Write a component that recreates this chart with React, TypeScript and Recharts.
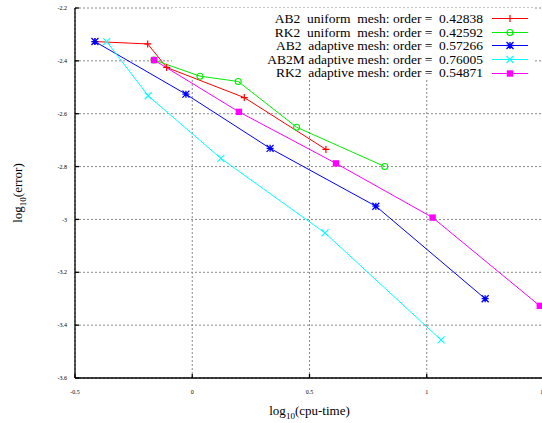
import React from "react";
import { CartesianGrid, Legend, Line, LineChart, ReferenceArea, XAxis, YAxis } from "recharts";

// log10(cpu-time) / log10(error) pairs
const ab2UniformX = [-0.415, -0.19, -0.109, 0.222, 0.57];
const ab2UniformY = [-2.327, -2.336, -2.425, -2.539, -2.735];
const rk2UniformX = [-0.163, 0.033, 0.196, 0.445, 0.821];
const rk2UniformY = [-2.397, -2.458, -2.478, -2.651, -2.8];
const ab2AdaptiveX = [-0.415, -0.027, 0.332, 0.783, 1.249];
const ab2AdaptiveY = [-2.327, -2.526, -2.731, -2.95, -3.3];
const ab2mAdaptiveX = [-0.365, -0.188, 0.122, 0.566, 1.061];
const ab2mAdaptiveY = [-2.327, -2.532, -2.769, -3.051, -3.456];
const rk2AdaptiveX = [-0.163, 0.199, 0.613, 1.025, 1.482];
const rk2AdaptiveY = [-2.397, -2.593, -2.788, -2.993, -3.327];

const legendLabels = [
  "AB2  uniform  mesh: order =  0.42838",
  "RK2  uniform  mesh: order =  0.42592",
  "AB2  adaptive mesh: order =  0.57266",
  "AB2M adaptive mesh: order =  0.76005",
  "RK2  adaptive mesh: order =  0.54871",
];

const xTicks = [-0.5, 0, 0.5, 1, 1.5];
const yTicks = [-3.6, -3.4, -3.2, -3, -2.8, -2.6, -2.4, -2.2];

const toPoints = (xs: number[], ys: number[]) => xs.map((x, i) => ({ x, y: ys[i] }));

const series = [
  { name: "ab2u", label: legendLabels[0], color: "#ff0000", shape: "plus", data: toPoints(ab2UniformX, ab2UniformY) },
  { name: "rk2u", label: legendLabels[1], color: "#00ee00", shape: "circle", data: toPoints(rk2UniformX, rk2UniformY) },
  { name: "ab2a", label: legendLabels[2], color: "#0000ff", shape: "star", data: toPoints(ab2AdaptiveX, ab2AdaptiveY) },
  { name: "ab2ma", label: legendLabels[3], color: "#00ffff", shape: "cross", data: toPoints(ab2mAdaptiveX, ab2mAdaptiveY) },
  { name: "rk2a", label: legendLabels[4], color: "#ff00ff", shape: "square", data: toPoints(rk2AdaptiveX, rk2AdaptiveY) },
];

const serif = "'Liberation Serif', 'Times New Roman', serif";

const Marker = ({ shape, cx, cy, color }: { shape: string; cx: number; cy: number; color: string }) => {
  const s = 3.5;
  const plus = `M${cx - s},${cy}H${cx + s}M${cx},${cy - s}V${cy + s}`;
  const cross = `M${cx - s},${cy - s}L${cx + s},${cy + s}M${cx - s},${cy + s}L${cx + s},${cy - s}`;
  switch (shape) {
    case "plus":
      return <path d={plus} stroke={color} strokeWidth={1.2} fill="none" />;
    case "circle":
      return <circle cx={cx} cy={cy} r={3} stroke={color} strokeWidth={1.1} fill="none" />;
    case "star":
      return <path d={plus + cross} stroke={color} strokeWidth={1.3} fill="none" />;
    case "cross":
      return <path d={cross} stroke={color} strokeWidth={1.1} fill="none" />;
    default:
      return <rect x={cx - 3.2} y={cy - 3.2} width={6.4} height={6.4} fill={color} />;
  }
};

const makeDot = (shape: string, color: string) => (props: any) => (
  <g key={`dot-${shape}-${props.index}`}>
    <Marker shape={shape} cx={props.cx} cy={props.cy} color={color} />
  </g>
);

const renderLegend = () => (
  <div style={{ fontFamily: serif, fontSize: 13.5, color: "#000" }}>
    {series.map((s) => (
      <div key={s.name} style={{ display: "flex", justifyContent: "flex-end", alignItems: "center", height: 13.6 }}>
        <span style={{ whiteSpace: "pre", lineHeight: "13.6px" }}>{s.label}</span>
        <svg width={36} height={13} style={{ marginLeft: 9, display: "block" }}>
          <line x1={0} x2={36} y1={6.5} y2={6.5} stroke={s.color} strokeWidth={1} />
          <Marker shape={s.shape} cx={18} cy={6.5} color={s.color} />
        </svg>
      </div>
    ))}
  </div>
);

const XLabel = (props: any) => {
  const { viewBox } = props;
  const cx = viewBox.x + viewBox.width / 2;
  return (
    <text x={cx} y={viewBox.y + 37} textAnchor="middle" fontFamily={serif} fontSize={13} fill="#000">
      log<tspan dy={4} fontSize={9}>10</tspan>
      <tspan dy={-4}>(cpu-time)</tspan>
    </text>
  );
};

const YLabel = (props: any) => {
  const { viewBox } = props;
  const x = viewBox.x + 22;
  const y = viewBox.y + viewBox.height / 2;
  return (
    <text x={x} y={y} transform={`rotate(-90, ${x}, ${y})`} textAnchor="middle" fontFamily={serif} fontSize={13} fill="#000">
      log<tspan dy={4} fontSize={9}>10</tspan>
      <tspan dy={-4}>(error)</tspan>
    </text>
  );
};

const tickStyle = { fontFamily: serif, fontSize: 6, fill: "#000" };

export default function App() {
  return (
    <div style={{ position: "absolute", left: 0, top: 0, width: 542, height: 423, overflow: "hidden", background: "#fff" }}>
      <LineChart width={560} height={423} margin={{ top: 8, right: 16, left: 0, bottom: 0 }}>
        <CartesianGrid stroke="#8a8a8a" strokeDasharray="2 2" />
        <ReferenceArea x1={-0.087} x2={1.46} y1={-2.469} y2={-2.2} fill="#fff" fillOpacity={1} stroke="none" />
        <XAxis
          type="number"
          dataKey="x"
          domain={[-0.5, 1.5]}
          ticks={xTicks}
          interval={0}
          height={45}
          stroke="#000"
          strokeWidth={1.3}
          tickSize={-4}
          tickMargin={15.5}
          tick={tickStyle}
          tickFormatter={(v) => String(v)}
          label={{ content: XLabel }}
        />
        <XAxis
          xAxisId="top"
          orientation="top"
          type="number"
          domain={[-0.5, 1.5]}
          ticks={xTicks}
          interval={0}
          height={0}
          stroke="#000"
          strokeWidth={1.3}
          tickSize={-4}
          tickFormatter={() => ""}
        />
        <YAxis
          type="number"
          domain={[-3.6, -2.2]}
          ticks={yTicks}
          interval={0}
          width={75}
          stroke="#000"
          strokeWidth={1.3}
          tickSize={-4}
          tickMargin={12}
          tick={tickStyle}
          tickFormatter={(v) => String(v)}
          label={{ content: YLabel }}
        />
        {series.map((s) => (
          <Line
            key={s.name}
            data={s.data}
            dataKey="y"
            name={s.name}
            stroke={s.color}
            strokeWidth={1}
            dot={makeDot(s.shape, s.color)}
            activeDot={false}
            isAnimationActive={false}
          />
        ))}
        <Legend
          layout="horizontal"
          align="center"
          verticalAlign="middle"
          content={renderLegend}
          wrapperStyle={{ top: 12, left: 0, width: 528 }}
        />
      </LineChart>
    </div>
  );
}
